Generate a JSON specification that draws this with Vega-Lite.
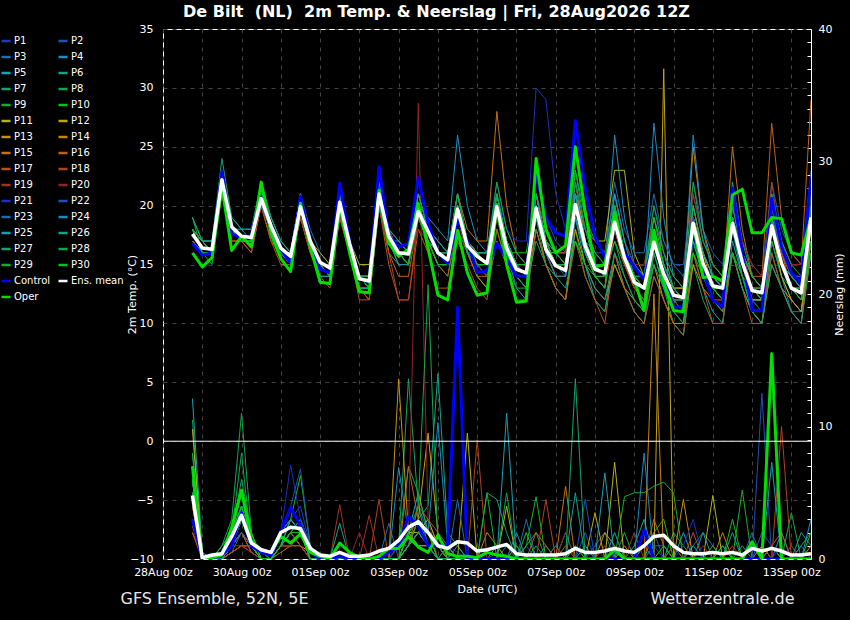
{
  "$schema": "https://vega.github.io/schema/vega-lite/v6.json",
  "width": 648,
  "height": 530,
  "autosize": "none",
  "padding": {"left": 163, "top": 29, "right": 39, "bottom": 61},
  "background": "black",
  "title": {
    "text": "De Bilt\u00a0 (NL)\u00a0 2m Temp. & Neerslag | Fri, 28Aug2026 12Z",
    "anchor": "start",
    "frame": "group",
    "dx": 20,
    "offset": 3,
    "fontSize": 16,
    "fontWeight": "bold",
    "color": "white"
  },
  "datasets": {
    "times": [
      {"i": 1, "t": 1787940000000},
      {"i": 2, "t": 1787961600000}, {"i": 3, "t": 1787983200000}, {"i": 4, "t": 1788004800000}, {"i": 5, "t": 1788026400000},
      {"i": 6, "t": 1788048000000}, {"i": 7, "t": 1788069600000}, {"i": 8, "t": 1788091200000}, {"i": 9, "t": 1788112800000},
      {"i": 10, "t": 1788134400000}, {"i": 11, "t": 1788156000000}, {"i": 12, "t": 1788177600000}, {"i": 13, "t": 1788199200000},
      {"i": 14, "t": 1788220800000}, {"i": 15, "t": 1788242400000}, {"i": 16, "t": 1788264000000}, {"i": 17, "t": 1788285600000},
      {"i": 18, "t": 1788307200000}, {"i": 19, "t": 1788328800000}, {"i": 20, "t": 1788350400000}, {"i": 21, "t": 1788372000000},
      {"i": 22, "t": 1788393600000}, {"i": 23, "t": 1788415200000}, {"i": 24, "t": 1788436800000}, {"i": 25, "t": 1788458400000},
      {"i": 26, "t": 1788480000000}, {"i": 27, "t": 1788501600000}, {"i": 28, "t": 1788523200000}, {"i": 29, "t": 1788544800000},
      {"i": 30, "t": 1788566400000}, {"i": 31, "t": 1788588000000}, {"i": 32, "t": 1788609600000}, {"i": 33, "t": 1788631200000},
      {"i": 34, "t": 1788652800000}, {"i": 35, "t": 1788674400000}, {"i": 36, "t": 1788696000000}, {"i": 37, "t": 1788717600000},
      {"i": 38, "t": 1788739200000}, {"i": 39, "t": 1788760800000}, {"i": 40, "t": 1788782400000}, {"i": 41, "t": 1788804000000},
      {"i": 42, "t": 1788825600000}, {"i": 43, "t": 1788847200000}, {"i": 44, "t": 1788868800000}, {"i": 45, "t": 1788890400000},
      {"i": 46, "t": 1788912000000}, {"i": 47, "t": 1788933600000}, {"i": 48, "t": 1788955200000}, {"i": 49, "t": 1788976800000},
      {"i": 50, "t": 1788998400000}, {"i": 51, "t": 1789020000000}, {"i": 52, "t": 1789041600000}, {"i": 53, "t": 1789063200000},
      {"i": 54, "t": 1789084800000}, {"i": 55, "t": 1789106400000}, {"i": 56, "t": 1789128000000}, {"i": 57, "t": 1789149600000},
      {"i": 58, "t": 1789171200000}, {"i": 59, "t": 1789192800000}, {"i": 60, "t": 1789214400000}, {"i": 61, "t": 1789236000000},
      {"i": 62, "t": 1789257600000}, {"i": 63, "t": 1789279200000}, {"i": 64, "t": 1789300800000}
    ],
    "ens": [
      {"m": "P1", "T": [18,16,16,23,18,17,17,21,18,16,15,20,17,15,14,21,17,14,13,22,18,16,15,20,18,16,15,21,17,15,15,21,17,15,14,21,17,15,15,22,17,15,14,19,16,13,12,16,13,12,11,18,15,13,12,20,16,12,12,19,15,13,12,20],
       "R": [6.9,0,0,0.5,1,3,1,0,0,1,3,4,1,0,0,0,0,0,0,0,1,1,2,3,1,0,1,0.5,0,0,0,0,0,0,1,0,0,0,0,0,0,0,0,0.5,0,0,0,1,0,0,0,0,0,0,0,0,0,0,1,0,0,0,0,0]},
      {"m": "P2", "T": [17,16,16,22,18,17,17,20,18,16,16,19,16,15,14,19,16,14,14,20,17,16,16,19,17,16,15,19,16,16,16,22,18,16,15,23,19,17,16,22,18,16,16,21,17,15,14,20,17,15,15,22,18,16,15,21,17,15,14,22,18,16,15,23],
       "R": [4,0,0,0,1,2,1,0,0,2,3,2,0.5,0,0,0,0,0,0,0,0,0,1,2,3,1,0,0,0,0,0,0.5,0,0,0,0,0,0,0,0,2,0,0,0,0,0,1,2,0,1,0,0,0,0,0,0,0,0,2,1,0,0,1,0]},
      {"m": "P3", "T": [17,16,16,22,18,17,17,21,19,17,16,21,18,16,15,21,17,14,14,22,18,17,16,21,18,16,16,20,17,16,15,21,17,14,14,19,16,14,14,19,16,14,13,18,15,14,13,18,15,13,12,19,16,14,13,18,14,12,11,17,14,11,11,17],
       "R": [5,0,0,0,0.5,2,1,0,0,1,2,3,1,0,0,0,0,0,0,0,0,1,1,4,2,1,0,0,0,0,0,0,1,0,0,0,0,0,0,0,0,1,2,0,0,0,0,0,0,0,0,1,2,1,0,0,0,0,0,0,0,1,0,0]},
      {"m": "P4", "T": [18,16,16,22,18,17,17,20,18,16,16,20,17,15,14,20,16,13,12,20,17,17,16,20,19,18,17,26,20,17,16,21,17,15,15,20,17,15,15,21,17,16,15,26,19,15,14,18,15,13,12,19,15,13,13,19,15,12,12,18,15,13,12,19],
       "R": [6,0,0,0.5,1,3,1,0,0,1,2,2,1,0,0,0,0,0,0,0,0,6.9,2,1,1,0,0,1,0,0,0,0,0,2,0,0,1,0,0,0,0,0,0,0,0,0,1,0,0,0,0,1,0,0,0,0,0,0,0,1,0,0,0,3]},
      {"m": "P5", "T": [18,17,17,22,18,18,18,21,18,16,16,20,17,15,15,21,17,14,14,21,17,16,16,20,18,17,16,20,16,15,14,19,16,13,12,18,15,13,12,19,15,12,11,16,13,11,10,14,12,10,9,16,13,11,10,17,14,11,10,16,13,11,10,17],
       "R": [12.1,0.5,0,0,1,4,1,0,0,2,3,2,1,0,0,0,0,0,0,0,0,1,2,5,2,1,0,0,0,0,0,1,0,0,0,0,0,1,0,0,0,0,0,0,0,0,0,0,0,0,2,0,0,0,1,0,0,0,0,0,2,0,0,0]},
      {"m": "P6", "T": [18,17,16,23,18,17,17,20,18,16,15,19,17,15,14,20,16,13,13,20,17,16,16,19,17,15,15,19,16,15,15,20,16,14,14,19,16,16,16,23,19,17,16,21,17,15,14,18,15,13,13,21,17,15,14,22,17,14,13,20,16,14,14,22],
       "R": [7,0,0,1,2,5,1,0,0,1,2,3,1,0,0,0,0,0,0,0,0,0,2,3,4,14,2,1,0,0,0,0,0,0,0,1,0,0,2,0,1,0,0,0,0,1,3,0,0,0,0,0,0,0,0,2,0,0,0,0,0,0,1,2]},
      {"m": "P7", "T": [19,17,17,24,19,18,17,22,19,17,16,21,17,15,15,21,17,14,14,21,17,16,15,19,17,15,14,18,16,15,15,20,17,15,15,21,17,15,15,21,17,15,14,17,14,12,11,16,13,11,10,18,15,13,12,18,14,11,11,17,14,13,12,19],
       "R": [8,0,0,0.5,2,6,2,0,0,1,2,2,0,0,0,0,0,0,0,0,0,1,13.6,4,1,1,1,0,0,0,5,4.5,2,0,0,0,0,0,0,1,0,0,0,0,0,0,0,0,0,0,0,0,0,0,0,0,0,0,0,0,0,0,0,0]},
      {"m": "P8", "T": [19,16,16,23,18,17,17,21,18,16,16,20,17,15,15,20,17,14,14,21,17,16,16,19,17,15,15,19,16,14,13,18,15,13,13,19,15,13,12,18,14,12,11,15,13,11,10,16,13,10,9,15,12,10,10,16,13,11,10,17,14,12,11,17],
       "R": [10.5,0,0,1,3,11,2,0,0,1,2,2,1,0,0,0,0,0,0,0,0,0,1,3,2,1,0,0,0,0,0,0,0,0,1,2,0,0,0,0,0,0,0,0,2,0,0,0,0,2,1,0,0,0,0,0,0,0,0,1,0,0,0,0]},
      {"m": "P9", "T": [18,16,15,22,18,17,17,21,18,16,15,20,17,15,14,20,16,13,13,20,16,15,15,20,18,16,15,20,17,16,15,20,17,15,15,21,17,15,15,21,18,16,15,19,16,14,13,18,15,13,12,19,15,14,13,19,16,14,13,20,16,14,13,20],
       "R": [5,0,0,0,1,4,1,0.5,0,1,3,2,0,0,0,0,0,0,0,0,0,1,7,5,2,0,1,0,0,0,0,0,0,0,1,4.7,0,0,0,0,0,0,0,0,0,0,0,0,0,0,0,0,0,0,0,0,5.2,0,0,0,0,0,0,0]},
      {"m": "P10", "T": [18,16,16,22,18,17,17,21,18,16,16,20,17,15,15,20,16,13,13,21,17,16,16,20,18,16,16,20,16,15,15,20,16,16,16,21,18,16,15,23,18,15,14,17,15,13,12,17,14,12,11,20,16,14,13,19,15,12,12,19,16,14,13,20],
       "R": [6,0,0,0.5,2,5,2,0,0,1,3,6.3,1,0,0,0,0,0,0,0,0,0,2,3,2,1,0,0,0,0,0,0,0,0,0,0,0,0,0,1,0,0,0,0,0,0,0,2,3,0,0,0,0,0,1,0,0,0,0,0,0,0,0,0]},
      {"m": "P11", "T": [18,17,16,22,18,17,17,20,18,16,16,20,17,16,15,20,17,15,15,20,17,16,16,19,18,17,16,20,17,16,16,20,17,15,15,20,17,16,16,21,18,17,17,23,23,16,14,17,14,13,13,19,16,13,13,19,16,14,13,18,15,14,13,18],
       "R": [9.8,0,0,0.5,1,2,1,0,0,1,2,1,0.5,0,0,0,0,0,0,0,0,0,2,2,3,1,1,0,9.5,0,0,0,4,0,0,0,0,0,0,0,0,0,0,7.3,0,0,0,0,0,0,0,0,0,4.8,0,0,0,0,0,0,0,0,0,0]},
      {"m": "P12", "T": [18,17,16,22,18,17,17,21,18,16,16,21,17,15,15,21,17,14,14,22,18,16,16,20,18,16,15,20,17,16,15,20,17,15,15,21,17,15,15,20,16,14,14,19,16,14,13,18,14,12,12,20,16,14,13,19,15,12,12,18,14,12,11,18],
       "R": [3,0,0,0,1,2,1,0,0,1,2,2,1,0,0,0,0,0,0,0,0,0,1,3,9.5,2,0,0,0,0,0,0,0,0,0,0,0,0,0,0,0,3.5,0,0,0,0,0,0,37,0,0,0,0,0,0,0,0,0,0,0,0,0,0,0]},
      {"m": "P13", "T": [17,16,16,22,18,17,17,21,18,16,16,20,17,15,14,21,17,14,13,21,17,15,15,20,17,16,15,19,16,14,13,17,15,14,13,18,15,13,12,18,15,13,12,15,13,12,11,15,12,10,10,15,13,12,11,16,13,11,10,15,13,12,11,16],
       "R": [4,0,0,0,0.5,1,1,0,0,1,2,1,0,0,0,0,0,0,0,0,0,13.6,2,1,1,0,0,0,0,0,0,0,0,1,0,0,0,0,0,0,0,0,2,1,0,0,0,0,0,0,4.5,0,0,0,0,0,0,1,0,0,0,0,0,0]},
      {"m": "P14", "T": [17,16,16,22,18,17,17,21,18,16,16,21,17,15,14,20,17,14,14,21,18,16,16,20,18,16,16,21,17,16,15,21,17,15,14,21,17,15,15,22,17,15,14,20,16,14,13,18,15,13,13,25,18,15,14,21,16,13,13,19,16,14,13,20],
       "R": [3,0,0,0,1,2,0.5,0,0,1,1,2,0,0,0,0,0,0,0,0,0,0,1,2,2,1,0,0,0,0,2,1,0,0,0,0,0,0,0,0,0,0,0,0,1,0,0,20,0,0,0,0,0,0,2,0,0,0,0,0,0,0,0,1]},
      {"m": "P15", "T": [17,16,16,22,18,17,17,20,18,16,16,20,17,15,14,20,17,14,13,21,17,16,16,20,18,17,16,21,18,17,17,28,20,16,15,21,17,15,15,21,17,15,14,19,16,14,13,17,14,12,12,19,16,14,13,25,18,14,13,20,16,13,13,21],
       "R": [2,0,0,0,0.5,1,1,0,0,0.5,1,2,0,0,0,0,0,0,0,0,0,0,1,2,1,0,0,0,0,0,0,0,0,0,0,0,0,0,5.5,0,0,0,0,0,0,0,0,0,0,0,0,0,0,0,0,0,0,0,0,0,0,0,0,0]},
      {"m": "P16", "T": [17,16,16,21,17,17,16,20,17,16,15,19,16,14,14,19,16,13,12,20,16,14,14,19,17,15,14,19,16,14,14,20,16,14,13,20,16,14,14,20,16,14,13,18,15,13,12,17,14,12,11,18,15,13,12,19,16,14,14,27,19,16,15,29],
       "R": [2.5,0,0,0,0.5,1,0.5,0,0,1,1,1,0,0,0,0,0,0,0,0,0,0,7,3,2,0,0,0,0,0,0,0,0,0,0,2,1,0,0,0,0,0,0,0,0,0,0,3,1,0,0,0,0,0,0,0,0,0,1,0,0,0,0,0]},
      {"m": "P17", "T": [17,16,16,21,17,17,16,20,17,15,15,19,16,14,13,19,16,12,12,20,15,12,12,18,16,13,13,17,15,13,12,18,15,12,12,18,15,13,12,17,14,12,10,16,13,11,10,14,12,10,9,16,13,10,10,16,13,10,10,16,13,11,10,16],
       "R": [2,0,0,0,1,2,0.5,0,0,1,1,1,0,0,0,0,0,0,0,0,0,0,1,4,3,2,1,0,0,0,0,0,0,0,0,0,0,0,1,0,0,0,0,0,0,0,0,0,0,1,0,2,0,0,0,0,0,0,0,1,2,0,0,0]},
      {"m": "P18", "T": [17,16,16,21,17,17,17,20,17,16,15,19,16,14,14,20,16,13,12,20,16,12,12,19,17,15,15,19,16,15,14,19,16,14,13,20,16,14,14,19,16,14,13,18,15,13,12,17,14,12,11,19,15,12,12,20,16,13,12,22,16,14,13,20],
       "R": [3,0,0,0,0.5,1,1,0,0,1,1,2,0,0,0,0,0,0,0,4.5,0,0,1,2,1,0,0,0,0,9,0,0,0,0,0,0,4.5,0,0,0,0,0,0,0,0,0,0,0,0,0,0,0,0,0,0,0,0,0,0,0,10,0,0,0]},
      {"m": "P19", "T": [18,17,16,22,18,17,17,21,18,16,16,20,17,15,15,21,17,14,13,21,17,16,15,20,18,16,15,20,17,15,15,20,17,15,14,20,17,15,15,20,17,15,14,19,16,14,13,18,15,13,12,18,15,12,12,20,16,13,13,21,17,14,13,20],
       "R": [4,0,0,0,1,1,0.5,0,0,1,2,1,0,0,0,4.1,0,0,3.3,0,0,0,1,3,2,1,0,0,0,0,0,0,0,0,0,0,0,0,0,0,0,0,1,0,0,2,0,0,0,0,0,0,0,0,0,1,0,0,0,0,0,0,0,0]},
      {"m": "P20", "T": [18,17,16,22,18,17,17,21,18,16,16,20,17,15,15,20,17,14,14,21,17,16,15,18,17,15,15,19,16,15,14,19,16,15,15,21,18,16,16,22,18,17,16,20,17,15,15,19,16,14,13,21,17,15,14,21,17,15,14,20,17,15,15,22],
       "R": [3,0,0,0,1,2,1,0,0,1,1,2,0,0,0,0,0,2,0,0,0,1,2,34.4,3,0,0,0,0,0,0,0,0,0,0,0,0,0,2,0,0,0,0,0,0,0,0,0,0,0,0,0,1,0,0,0,0,0,0,0,0,1,0,0]},
      {"m": "P21", "T": [18,16,16,23,18,17,17,21,18,16,16,21,17,15,15,21,17,14,14,22,18,16,16,21,18,17,16,21,17,16,16,21,18,17,17,30,29,21,18,22,18,16,15,19,16,14,13,18,15,12,12,19,15,13,12,18,15,12,11,18,15,13,12,21],
       "R": [5,0,0,0.5,1,3,1,0,0,2,7.1,3,1,0,0,0,0,0,0,0,0,1,2,3,1,0,0,0,0,0,0,0,0,0,0,0,0,0,0,0,0,1,0,0,0,0,0,0,0,0,1,3,0,0,0,0,0,0,0,0,1,0,0,0]},
      {"m": "P22", "T": [18,16,16,22,18,17,17,21,18,16,16,20,17,15,15,20,17,14,14,21,17,16,16,20,18,16,16,20,17,15,15,20,17,15,15,20,17,15,15,21,17,15,14,20,16,14,13,18,15,13,12,19,15,13,12,19,15,12,11,20,15,13,12,21],
       "R": [6,0,0,0,1,3,1,0,0,2,4,6.8,1,0,0,0,0,0,0,0,0,0,1,2,1,0,0,0,0,0,0,0,0,0,0,0,0,0,0,0,4.5,0,0,0,0,0,0,0,0,0,0,0,0,0,0,0,0,0,12.5,0,0,0,0,0]},
      {"m": "P23", "T": [17,16,16,22,18,17,17,20,18,16,15,20,17,15,14,20,16,14,13,20,17,16,15,20,17,16,15,20,16,15,14,20,16,14,14,20,16,15,14,19,16,15,15,22,18,16,16,21,17,15,14,17,15,14,13,18,15,13,12,21,17,14,14,20],
       "R": [5,0,0,0,1,2,1,0,0,1,2,2,0,0,0,0,0,0,0,0,2.7,0,1,2,2,1,0,4.5,0,0,0,0,0,0,3,0,0,0,0,0,0,0,0,0,0,0,0,1,1,0,0,0,0,0,0,0,0,2,0,0,0,0,0,0]},
      {"m": "P24", "T": [17,16,16,22,18,17,17,21,18,16,16,20,17,15,15,21,17,14,14,21,17,15,15,20,18,16,15,20,17,16,15,20,17,15,14,20,16,14,14,21,17,15,14,20,16,14,13,27,19,14,13,26,18,14,13,19,15,13,12,19,15,13,12,20],
       "R": [7,0,0,0.5,1,3,1,0,0,1,2,2,1,0,0,0,0,0,0,0,0,0,2,3,2,10.3,1,0,0,0,0,0,0,0,0,0,0,0,0,0,0,0,0,0,0,0,8,0,0,0,0,0,0,0,0,0,0,0,0,0,0,0,0,0]},
      {"m": "P25", "T": [18,16,16,22,18,17,17,21,18,16,15,20,17,14,14,20,16,13,13,21,17,16,16,21,18,16,15,20,16,16,16,21,17,15,15,21,17,16,15,19,16,14,13,21,17,14,14,19,16,13,12,17,14,13,12,20,16,14,13,18,15,14,13,19],
       "R": [6,0,0,0,1,4,1,0,0,1,3,2,1,0,0,0,0,0,0,0,0,0,1,2,1,0,0,0,0,0,0,0,11,0,0,0,0,0,0,0,0,0,6.5,0,0,0,0,0,0,0,0,0,0,0,0,0,0,0,0,7.3,0,0,0,0]},
      {"m": "P26", "T": [19,17,17,23,19,18,18,22,19,17,16,21,17,15,15,21,17,14,14,22,18,17,16,21,18,17,16,21,17,16,15,21,17,15,15,21,17,15,15,21,17,15,15,20,16,14,14,18,15,13,12,20,16,14,13,19,15,13,13,19,15,13,13,19],
       "R": [5,0,0,0.5,2,4,1,0,0,1,2,2,0,0,0,2.7,0,0,0,0,0,0,2,3,1,1,0,0,0,0,0,0,0,0,0,0,0,0,0,5,0,0,0,2,0,0,0,0,0,0,0,0,2,0,0,0,0,0,0,0,0,0,2,1]},
      {"m": "P27", "T": [18,17,16,22,18,17,17,21,18,16,16,20,17,15,15,20,16,14,13,20,17,16,15,20,17,16,15,20,16,15,15,20,16,14,13,17,15,14,13,17,15,13,12,16,14,12,11,15,13,11,10,17,14,12,11,16,13,11,10,15,13,11,10,16],
       "R": [6,0,0,0,1,3,1,0,0,1,2,2,0,0,0,0,0,0,0,0,0,0,1,2,1,0,0,0,0,0,0,0,0,1,0,0,0,0,0,13.6,0,0,0,0,0,0,2,0,0,0,0,0,0,0,0,0,1,0,0,0,0,0,0,0]},
      {"m": "P28", "T": [18,16,16,22,18,17,17,21,18,16,16,20,17,15,15,20,17,14,14,20,17,16,15,19,17,15,15,20,16,16,16,22,18,16,15,19,17,15,15,22,18,16,15,18,16,14,14,20,16,14,13,22,17,15,14,19,16,14,13,21,17,15,14,21],
       "R": [8,0,0,1,2,8,1,0,0,1,2,2,1,0,0,0,0,0,0,0,0,0,2,4,20.7,1,0,0,0,0,0,0,5,0,0,0,0,0,0,0,0,0,0,0,0,0,0,0,0,0,0,0,0,0,0,0,0,0,0,0,0,3.5,0,0]},
      {"m": "P29", "T": [18,16,16,22,18,17,17,21,18,16,16,20,17,15,15,21,17,14,14,21,17,16,16,21,18,16,16,21,17,16,15,21,17,15,15,20,17,15,15,20,16,14,14,19,16,14,13,17,14,12,12,18,15,13,13,18,15,13,12,18,15,13,13,19],
       "R": [5,0,0,0.5,1,3,1,0,0,1,2,2,0,0,0,0,0,0,0,0,0,0,1,3,2,1,0,0,0,0,5,0,0,0,0,0,0,0,0,0,0,0,0,0,4.7,5,5,5.5,5.8,5,0,0,0,0,0,0,0,0,0,0,0,0,0,0]},
      {"m": "P30", "T": [18,17,16,22,18,17,17,21,18,16,16,20,17,15,14,20,17,14,13,21,17,16,15,20,17,15,15,20,17,15,15,20,16,14,14,20,16,16,15,17,15,14,13,20,16,14,13,19,15,13,12,16,14,13,12,16,14,13,12,19,15,13,12,17],
       "R": [6,0,0,0.5,2,4,1,0,0,1,2,2,0,0,0,0,0,0,0,0,0,0,2,3,2,0,0,0,0,0,0,0,0,0,2,0,0,0,0,0,0,0,0,0,0,0,0,0,1,0,0,0,0,1,0,3,0,0,0,0,0,0,0,2]},
      {"m": "Control", "T": [16.8,15.8,16.0,22.9,17.6,17.3,17.5,21.0,18.2,16.3,15.1,20.8,17.0,14.6,14.3,21.9,17.0,13.8,13.5,23.3,17.4,16.5,16.8,22.4,18.5,16.0,15.1,18.8,17.0,14.3,14.5,16.8,15.5,14.0,14.0,22.8,19.0,17.7,17.4,27.2,21.5,17.4,15.6,18.2,16.0,14.8,13.7,17.1,14.0,11.4,11.4,18.0,14.5,12.0,11.4,21.5,16.0,11.1,11.1,20.6,16.5,14.3,13.4,22.4],
       "R": [3,0,0,0.3,1,3.5,1,0.5,0.3,2,3.9,2.5,0.5,0,0,0.2,0,0,0,0,0.5,1,3.2,2.5,1,1,1,19,0,0,0,0,0,0,0,0,0,0,0,0,0,0,0,0,0,0,2.2,0,0,0,0,0,0,0,0,0,0,0,0,0,0,0,0,0]},
      {"m": "Oper", "T": [16.0,14.8,15.6,21.6,16.2,17.4,16.5,22.0,17.6,15.5,14.4,20.2,16.5,13.5,13.4,19.9,16.0,12.7,12.6,21.3,16.8,15.7,16.3,20.2,16.4,12.4,12.0,17.9,14.3,12.4,12.6,20.1,15.0,11.8,11.9,24.0,18.0,16.0,16.6,25.0,19.5,14.8,15.0,19.4,15.5,13.7,11.1,17.9,13.5,11.1,11.0,18.5,13.9,14.0,13.6,20.9,21.4,17.7,17.7,19.0,18.9,16.0,15.8,19.0],
       "R": [7,0,0.1,0.3,2.4,5.2,1.4,0.7,0.5,1.7,1.2,1.9,0.5,0.2,0,1.2,0.5,0.1,0,0.2,0.8,0.8,1.7,0.9,0.5,1.8,0.4,0.2,0.2,0.1,0.5,0.3,0.2,0,0,0,0,0,0,0,0,0,0,0.7,0,0,0,0,0,0,0,0,0,0,0,0,0,1.3,0,15.5,0,0,0,0]},
      {"m": "Ens. mean", "T": [17.6,16.4,16.3,22.2,18.2,17.4,17.3,20.6,18.3,16.4,15.7,19.9,17.0,15.2,14.7,20.3,16.8,13.8,13.6,21.0,17.4,16.0,15.9,19.5,17.8,16.0,15.4,19.7,16.6,15.7,15.1,19.9,16.4,14.6,14.3,19.8,16.3,14.9,14.5,20.1,16.6,14.6,14.3,18.6,15.6,13.5,13.0,16.9,14.2,12.4,12.2,18.5,15.1,13.2,13.0,18.5,15.2,12.8,12.6,18.3,15.1,13.0,12.6,19.0],
       "R": [4.8,0.1,0.3,0.4,1.7,3.3,1.2,0.7,0.5,2.0,2.4,2.3,0.8,0.3,0.2,0.5,0.2,0.2,0.3,0.6,0.8,1.4,2.4,2.8,2.0,1.0,0.8,1.3,1.2,0.6,0.7,0.9,1.1,0.4,0.3,0.3,0.3,0.3,0.4,0.8,0.5,0.5,0.6,0.8,0.6,0.5,1.0,1.7,1.8,1.0,0.5,0.4,0.4,0.5,0.4,0.5,0.3,0.8,0.6,0.8,0.6,0.3,0.3,0.4]}
    ]
  },
  "data": {"name": "ens"},
  "transform": [
    {"flatten": ["T", "R"], "as": ["temp", "rain"]},
    {"window": [{"op": "row_number", "as": "i"}], "groupby": ["m"]},
    {"lookup": "i", "from": {"data": {"name": "times"}, "key": "i", "fields": ["t"]}}
  ],
  "layer": [
    {
      "resolve": {"axis": {"y": "independent"}},
      "layer": [
        {
          "transform": [{"filter": "datum.m != 'Control' && datum.m != 'Oper' && datum.m != 'Ens. mean'"}],
          "mark": {"type": "line", "strokeWidth": 1, "clip": true},
          "encoding": {
            "x": {
              "field": "t", "type": "temporal",
              "scale": {"type": "utc", "nice": false, "domain": [{"year": 2026, "month": 8, "date": 28, "hours": 0, "utc": true}, {"year": 2026, "month": 9, "date": 13, "hours": 12, "utc": true}]},
              "axis": {
                "orient": "bottom", "title": "GFS Ensemble, 52N, 5E",
                "labels": false, "ticks": false, "domain": false, "grid": false,
                "titleX": -43, "titleY": 39, "titleAlign": "left", "titleBaseline": "middle",
                "titleFontSize": 16, "titleColor": "#e6e6e6"
              }
            },
            "y": {
              "field": "rain", "type": "quantitative",
              "scale": {"domain": [0, 40], "nice": false},
              "axis": {
                "orient": "right", "title": "Neerslag (mm)",
                "values": [0, 10, 20, 30, 40],
                "grid": false, "ticks": false, "domain": false, "labelPadding": 7,
                "titleAngle": 270, "titleX": 28, "titleBaseline": "middle"
              }
            },
            "color": {
              "field": "m", "type": "nominal",
              "scale": {
                "domain": ["P1","P2","P3","P4","P5","P6","P7","P8","P9","P10","P11","P12","P13","P14","P15","P16","P17","P18","P19","P20","P21","P22","P23","P24","P25","P26","P27","P28","P29","P30","Control","Ens. mean","Oper"],
                "range": ["#1d3fb5","#1f55b0","#1f6fb5","#1d90c0","#17a3b3","#12a38a","#12a468","#12a84a","#14b02c","#12c012","#b3b312","#c0a512","#c49314","#c78214","#c77014","#c06018","#b8521a","#b0421f","#a03322","#922323","#1a2fc0","#1f4fb8","#1f6ab3","#1d8bc0","#17a0b3","#12a38a","#12a468","#12a84a","#14b02c","#12c012","#0000ff","#ffffff","#00e000"]
              },
              "legend": {
                "title": null, "orient": "none", "legendX": -163, "legendY": 6,
                "direction": "horizontal", "columns": 2, "columnPadding": 2, "rowPadding": 5, "padding": 0,
                "symbolType": "stroke", "symbolSize": 81, "symbolStrokeWidth": 2.5,
                "labelColor": "white", "labelFontSize": 10, "labelOffset": 2, "symbolLimit": 40
              }
            }
          }
        },
        {
          "transform": [{"filter": "datum.m == 'Control' || datum.m == 'Oper' || datum.m == 'Ens. mean'"}],
          "mark": {"type": "line", "strokeJoin": "round", "clip": true},
          "encoding": {
            "x": {"field": "t", "type": "temporal"},
            "y": {
              "field": "rain", "type": "quantitative",
              "axis": {
                "orient": "right", "title": null,
                "values": [0,1,2,3,4,5,6,7,8,9,10,11,12,13,14,15,16,17,18,19,20,21,22,23,24,25,26,27,28,29,30,31,32,33,34,35,36,37,38,39,40],
                "labels": false, "grid": false, "domain": false, "tickSize": -4
              }
            },
            "color": {"field": "m", "type": "nominal"},
            "strokeWidth": {"condition": {"test": "datum.m == 'Ens. mean'", "value": 3.5}, "value": 3}
          }
        }
      ]
    },
    {
      "layer": [
        {
          "transform": [{"filter": "datum.m != 'Control' && datum.m != 'Oper' && datum.m != 'Ens. mean'"}],
          "mark": {"type": "line", "strokeWidth": 1, "clip": true},
          "encoding": {
            "x": {
              "field": "t", "type": "temporal",
              "axis": {
                "orient": "bottom", "title": "Date (UTC)",
                "tickCount": {"interval": "day", "step": 1},
                "labelExpr": "(datum.value - 1787875200000) / 86400000 % 2 == 0 ? utcFormat(datum.value, '%d%b %Hz') : ''",
                "labelFlush": false, "labelOverlap": false, "labelPadding": 7,
                "grid": true, "ticks": false, "domain": false,
                "titleY": 30, "titleBaseline": "middle"
              }
            },
            "y": {
              "field": "temp", "type": "quantitative",
              "scale": {"domain": [-10, 35], "nice": false, "zero": false},
              "axis": {
                "orient": "left", "title": "2m Temp. (°C)",
                "values": [-10, -5, 0, 5, 10, 15, 20, 25, 30, 35],
                "grid": true, "ticks": false, "domain": false, "labelPadding": 10,
                "titleAngle": 270, "titleX": -31, "titleBaseline": "middle"
              }
            },
            "color": {"field": "m", "type": "nominal"}
          }
        },
        {
          "transform": [{"filter": "datum.m == 'Control' || datum.m == 'Oper'"}],
          "mark": {"type": "line", "strokeWidth": 3, "strokeJoin": "round", "clip": true},
          "encoding": {
            "x": {"field": "t", "type": "temporal"},
            "y": {"field": "temp", "type": "quantitative"},
            "color": {"field": "m", "type": "nominal"}
          }
        },
        {
          "data": {"values": [{}]},
          "mark": {"type": "rule", "color": "white", "strokeWidth": 1},
          "encoding": {"y": {"datum": 0}}
        }
      ]
    },
    {
      "transform": [{"filter": "datum.m == 'Ens. mean'"}],
      "mark": {"type": "line", "strokeWidth": 3.5, "strokeJoin": "round", "clip": true},
      "encoding": {
        "x": {
          "field": "t", "type": "temporal",
          "axis": {
            "orient": "bottom", "title": "Wetterzentrale.de",
            "labels": false, "ticks": false, "domain": false, "grid": false,
            "titleX": 631, "titleY": 39, "titleAlign": "right", "titleBaseline": "middle",
            "titleFontSize": 16, "titleColor": "#e6e6e6"
          }
        },
        "y": {
          "field": "temp", "type": "quantitative",
          "scale": {"domain": [-10, 35], "nice": false, "zero": false},
          "axis": null
        },
        "color": {"field": "m", "type": "nominal"}
      }
    }
  ],
  "resolve": {"scale": {"y": "independent"}, "axis": {"x": "independent"}},
  "config": {
    "font": "DejaVu Sans",
    "view": {"stroke": "white", "strokeWidth": 1},
    "axis": {
      "labelColor": "white", "labelFontSize": 11,
      "titleColor": "white", "titleFontSize": 11, "titleFontWeight": "normal",
      "gridColor": "#444444", "gridDash": [4, 5], "tickColor": "white"
    }
  }
}
